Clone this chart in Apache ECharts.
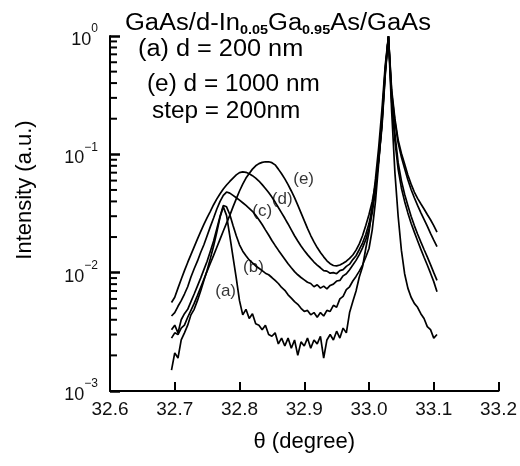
<!DOCTYPE html>
<html><head><meta charset="utf-8">
<script src="https://cdn.jsdelivr.net/npm/echarts@6/dist/echarts.min.js"></script>
<style>html,body{margin:0;padding:0;background:#fff}#c{width:520px;height:466px}</style>
</head><body><div id="c"></div>
<script>
// ---- data ----
const theta = [32.695,32.700,32.705,32.710,32.715,32.720,32.725,32.730,32.735,32.740,
32.745,32.750,32.755,32.760,32.765,32.770,32.775,32.780,32.785,32.790,
32.795,32.800,32.805,32.810,32.815,32.820,32.825,32.830,32.835,32.840,
32.845,32.850,32.855,32.860,32.865,32.870,32.875,32.880,32.885,32.890,
32.895,32.900,32.905,32.910,32.915,32.920,32.925,32.930,32.935,32.940,
32.945,32.950,32.955,32.960,32.965,32.970,32.975,32.980,32.985,32.990,
32.995,33.000,33.005,33.010,33.015,33.020,33.025,33.030,33.035,33.040,
33.045,33.050,33.055,33.060,33.065,33.070,33.075,33.080,33.085,33.090,
33.095,33.100,33.105];

const curveA = [0.0015,0.0021,0.0019,0.0027,0.0031,0.0036,0.0044,0.0049,0.0058,0.0070,
0.0086,0.0105,0.0132,0.0168,0.0220,0.0295,0.0360,0.0305,0.0205,0.0135,
0.0090,0.0058,0.0044,0.0049,0.0041,0.0045,0.0037,0.0036,0.0033,0.0036,
0.0030,0.0029,0.0031,0.0025,0.0028,0.0024,0.0028,0.0023,0.0027,0.0020,
0.0026,0.0024,0.0028,0.0023,0.0027,0.0025,0.0029,0.0019,0.0027,0.0030,
0.0027,0.0032,0.0028,0.0034,0.0031,0.0046,0.0057,0.0070,0.0092,0.0112,
0.0160,0.0220,0.0360,0.0620,0.1150,0.2400,0.5600,1.0000,0.2300,0.0700,
0.0300,0.0155,0.0098,0.0074,0.0062,0.0055,0.0051,0.0045,0.0041,0.0035,
0.0033,0.0028,0.0030];

const curveB = [0.0033,0.0036,0.0031,0.0040,0.0045,0.0049,0.0057,0.0066,0.0077,0.0090,
0.0106,0.0125,0.0152,0.0185,0.0235,0.0300,0.0370,0.0360,0.0310,0.0250,
0.0205,0.0172,0.0152,0.0139,0.0128,0.0121,0.0114,0.0109,0.0104,0.0099,
0.0096,0.0091,0.0086,0.0081,0.0075,0.0071,0.0065,0.0061,0.0057,0.0054,
0.0050,0.0047,0.0048,0.0044,0.0046,0.0042,0.0046,0.0043,0.0048,0.0047,
0.0053,0.0051,0.0060,0.0063,0.0072,0.0076,0.0085,0.0093,0.0103,0.0116,
0.0135,0.0160,0.0230,0.0400,0.0850,0.1900,0.5000,0.9800,0.2800,0.1300,
0.0750,0.0520,0.0400,0.0320,0.0262,0.0220,0.0186,0.0158,0.0135,0.0116,
0.0099,0.0084,0.0069];

const curveC = [0.0043,0.0046,0.0052,0.0058,0.0066,0.0076,0.0092,0.0108,0.0125,0.0148,
0.0172,0.0205,0.0245,0.0290,0.0345,0.0400,0.0450,0.0480,0.0470,0.0450,
0.0430,0.0410,0.0390,0.0370,0.0350,0.0330,0.0305,0.0280,0.0255,0.0230,
0.0208,0.0187,0.0170,0.0155,0.0142,0.0130,0.0119,0.0110,0.0102,0.0096,
0.0091,0.0087,0.0083,0.0081,0.0076,0.0079,0.0074,0.0077,0.0073,0.0078,
0.0080,0.0085,0.0086,0.0094,0.0098,0.0106,0.0116,0.0127,0.0142,0.0162,
0.0190,0.0235,0.0320,0.0500,0.0950,0.2000,0.5200,1.0000,0.3000,0.1500,
0.0850,0.0600,0.0460,0.0370,0.0300,0.0250,0.0212,0.0182,0.0157,0.0136,
0.0117,0.0100,0.0086];

const curveD = [0.0056,0.0062,0.0074,0.0088,0.0104,0.0122,0.0142,0.0165,0.0192,0.0222,
0.0256,0.0292,0.0330,0.0375,0.0420,0.0465,0.0510,0.0550,0.0590,0.0630,
0.0670,0.0700,0.0710,0.0705,0.0685,0.0660,0.0630,0.0595,0.0555,0.0515,
0.0475,0.0435,0.0395,0.0355,0.0320,0.0288,0.0258,0.0230,0.0205,0.0185,
0.0168,0.0154,0.0142,0.0132,0.0123,0.0116,0.0110,0.0104,0.0103,0.0099,
0.0100,0.0098,0.0104,0.0106,0.0113,0.0118,0.0129,0.0139,0.0157,0.0178,
0.0210,0.0260,0.0350,0.0520,0.0900,0.1800,0.4800,0.9900,0.3300,0.1900,
0.1250,0.0950,0.0760,0.0610,0.0505,0.0430,0.0370,0.0322,0.0282,0.0247,
0.0215,0.0188,0.0166];

const curveE = [0.0028,0.0031,0.0030,0.0034,0.0036,0.0042,0.0048,0.0055,0.0064,0.0075,
0.0088,0.0103,0.0120,0.0140,0.0164,0.0192,0.0225,0.0262,0.0305,0.0360,
0.0420,0.0490,0.0560,0.0630,0.0690,0.0750,0.0800,0.0835,0.0855,0.0865,
0.0865,0.0850,0.0815,0.0750,0.0685,0.0620,0.0555,0.0490,0.0430,0.0372,
0.0320,0.0275,0.0237,0.0206,0.0182,0.0163,0.0148,0.0136,0.0126,0.0119,
0.0115,0.0114,0.0116,0.0120,0.0125,0.0132,0.0141,0.0155,0.0175,0.0205,
0.0250,0.0310,0.0400,0.0560,0.0900,0.1700,0.4600,1.0000,0.3500,0.2000,
0.1320,0.1020,0.0830,0.0670,0.0560,0.0480,0.0425,0.0382,0.0345,0.0310,
0.0280,0.0250,0.0220];

const seriesCurves = [curveA, curveB, curveC, curveD, curveE];
const curveNames = ['(a)', '(b)', '(c)', '(d)', '(e)'];
const curveLabelTheta = [32.7786, 32.8215, 32.8350, 32.8660, 32.8990];
const curveLabelValue = [0.0070, 0.0112, 0.0330, 0.0420, 0.0620];

const xMin = 32.6, xMax = 33.2, xStep = 0.1;
const yMin = 0.001, yMax = 1;
const yMinorTicks = [0.002,0.003,0.004,0.005,0.006,0.007,0.008,0.009,
0.02,0.03,0.04,0.05,0.06,0.07,0.08,0.09,
0.2,0.3,0.4,0.5,0.6,0.7,0.8,0.9];

const titleLines = ['GaAs/d-In{s|0.05}Ga{s|0.95}As/GaAs', '(a) d = 200 nm', '(e) d = 1000 nm', 'step = 200nm'];

// ---- chart ----
const FONT = "'Liberation Sans', Arial, sans-serif";
const chart = echarts.init(document.getElementById('c'));

const lineSeries = seriesCurves.map((arr, k) => ({
  type: 'line', name: curveNames[k],
  data: theta.map((t, i) => [t, arr[i]]),
  showSymbol: false, symbol: 'none', smooth: false,
  lineStyle: {color: '#000', width: 1.7},
  silent: true, z: 3
}));

const minorTickSeries = {
  type: 'custom', clip: false, z: 5,
  data: yMinorTicks.map(v => [xMin, v]),
  renderItem: (params, api) => {
    const p = api.coord([api.value(0), api.value(1)]);
    return {type: 'line', shape: {x1: p[0], y1: p[1], x2: p[0] + 7, y2: p[1]},
      style: {stroke: '#000', lineWidth: 2}};
  }
};

const labelSeries = {
  type: 'scatter', silent: true, z: 6,
  data: curveNames.map((n, k) => ({name: n, value: [curveLabelTheta[k], curveLabelValue[k]]})),
  symbolSize: 0.1, itemStyle: {color: 'rgba(0,0,0,0)'},
  label: {show: true, position: 'inside', formatter: p => p.name, color: '#000', fontSize: 17, fontFamily: FONT}
};

const supMap = {'0': '0', '-1': '−1', '-2': '−2', '-3': '−3'};

const option = {
  animation: false,
  backgroundColor: '#fff',
  grid: {left: 110, top: 36, width: 393, height: 355, containLabel: false},
  xAxis: {
    type: 'value', min: xMin, max: xMax, interval: xStep,
    axisLine: {show: true, lineStyle: {color: '#000', width: 2}},
    axisTick: {show: true, inside: true, length: 9, lineStyle: {color: '#000', width: 2}},
    axisLabel: {color: '#111', fontSize: 19, fontFamily: FONT, margin: 9,
      formatter: v => v.toFixed(1)},
    splitLine: {show: false},
    name: 'θ (degree)', nameLocation: 'middle', nameGap: 40,
    nameTextStyle: {color: '#000', fontSize: 22, fontFamily: FONT}
  },
  yAxis: {
    type: 'log', logBase: 10, min: yMin, max: yMax,
    axisLine: {show: true, lineStyle: {color: '#000', width: 2}},
    axisTick: {show: true, inside: true, length: 10, lineStyle: {color: '#000', width: 2.5}},
    splitLine: {show: false},
    axisLabel: {
      margin: 12, color: '#111', fontFamily: FONT,
      formatter: v => {
        const e = Math.round(Math.log10(v));
        return '{b|10}{s|' + (supMap[String(e)] || String(e)) + '}';
      },
      rich: {
        b: {fontSize: 18, fontFamily: FONT, color: '#111', lineHeight: 26, verticalAlign: 'bottom'},
        s: {fontSize: 12, fontFamily: FONT, color: '#111', lineHeight: 12, verticalAlign: 'top'}
      }
    }
  },
  graphic: [
    {type: 'text', x: 25, y: 190, rotation: Math.PI / 2, silent: true,
      style: {text: 'Intensity (a.u.)', fill: '#000', fontSize: 22, fontFamily: FONT, align: 'center', verticalAlign: 'middle'}},
    {type: 'text', x: 125, y: 24, scaleX: 1.11, silent: true,
      style: {text: titleLines[0], fill: '#000', fontSize: 23, fontFamily: FONT, lineHeight: 26, align: 'left', verticalAlign: 'middle',
        rich: {s: {fontSize: 13, fontWeight: 'bold', fontFamily: FONT, lineHeight: 14, verticalAlign: 'bottom', fill: '#000'}}}},
    {type: 'text', x: 138, y: 50, scaleX: 1.1, silent: true,
      style: {text: titleLines[1], fill: '#000', fontSize: 23, fontFamily: FONT, align: 'left', verticalAlign: 'middle'}},
    {type: 'text', x: 147, y: 85, scaleX: 1.06, silent: true,
      style: {text: titleLines[2], fill: '#000', fontSize: 23, fontFamily: FONT, align: 'left', verticalAlign: 'middle'}},
    {type: 'text', x: 152, y: 112, scaleX: 1.06, silent: true,
      style: {text: titleLines[3], fill: '#000', fontSize: 23, fontFamily: FONT, align: 'left', verticalAlign: 'middle'}}
  ],
  series: [...lineSeries, minorTickSeries, labelSeries]
};
chart.setOption(option);
</script></body></html>
